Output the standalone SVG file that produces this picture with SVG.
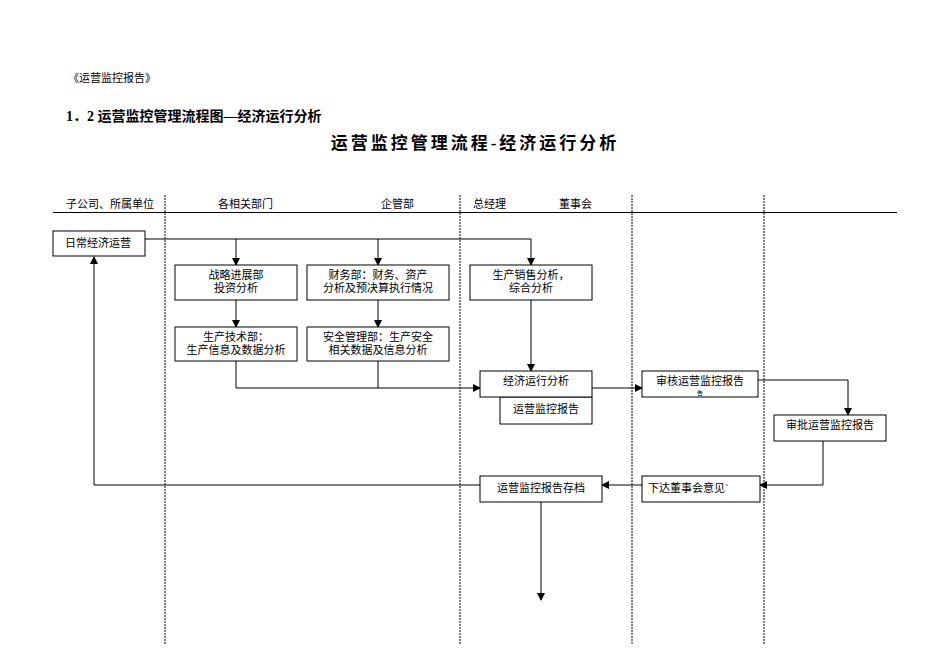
<svg xmlns="http://www.w3.org/2000/svg" width="950" height="672" viewBox="0 0 950 672">
<defs>
<marker id="a" markerWidth="8" markerHeight="8" refX="7" refY="4" orient="auto" markerUnits="userSpaceOnUse"><path d="M0,0 L8,4 L0,8 Z" fill="#000"/></marker>
<style>
text{font-family:"Liberation Serif","Noto Sans CJK SC",serif;font-size:11px;fill:#000}
.t{text-anchor:middle}
rect{fill:#fff;stroke:#000;stroke-width:1}
.c path{fill:none;stroke:#000;stroke-width:1}
.d{stroke:#000;stroke-dasharray:2,1;stroke-width:1}
</style>
</defs>
<rect x="0" y="0" width="950" height="672" style="stroke:none"/>
<text x="68" y="82" font-size="10">《运营监控报告》</text>
<text x="66" y="121" style="font-size:14px;font-weight:bold">1．2 运营监控管理流程图—经济运行分析</text>
<text x="475" y="149" class="t" style="font-size:17px;font-weight:bold;letter-spacing:3px">运营监控管理流程-经济运行分析</text>
<line x1="53" y1="212.5" x2="897" y2="212.5" stroke="#000"/>
<line class="d" x1="165" y1="195" x2="165" y2="645"/>
<line class="d" x1="460" y1="195" x2="460" y2="645"/>
<line class="d" x1="632" y1="195" x2="632" y2="645"/>
<line class="d" x1="764" y1="195" x2="764" y2="645"/>
<text x="66" y="208">子公司、所属单位</text>
<text x="218" y="208">各相关部门</text>
<text x="381" y="208">企管部</text>
<text x="473" y="208">总经理</text>
<text x="559" y="208">董事会</text>
<g class="c">
<path d="M145,239 H531 V265" marker-end="url(#a)"/>
<path d="M236,239 V265" marker-end="url(#a)"/>
<path d="M378,239 V265" marker-end="url(#a)"/>
<path d="M236,300 V327" marker-end="url(#a)"/>
<path d="M378,300 V327" marker-end="url(#a)"/>
<path d="M236,361 V388 H480" marker-end="url(#a)"/>
<path d="M378,361 V388"/>
<path d="M531,300 V371" marker-end="url(#a)"/>
<path d="M592,388 H642" marker-end="url(#a)"/>
<path d="M758,380 H848 V415" marker-end="url(#a)"/>
<path d="M823,441 V485 H760" marker-end="url(#a)"/>
<path d="M642,485 H602" marker-end="url(#a)"/>
<path d="M480,485 H94 V257" marker-end="url(#a)"/>
<path d="M541,502 V600" marker-end="url(#a)"/>
</g>
<g id="n1"><rect x="53" y="231" width="92" height="25"/><text x="98" y="247" class="t">日常经济运营</text></g>
<g id="n2"><rect x="175" y="265" width="122" height="35"/><text x="236" y="279" class="t">战略进展部</text><text x="236" y="292" class="t">投资分析</text></g>
<g id="n3"><rect x="307" y="265" width="142" height="35"/><text x="378" y="279" class="t">财务部：财务、资产</text><text x="378" y="292" class="t">分析及预决算执行情况</text></g>
<g id="n4"><rect x="470" y="265" width="122" height="35"/><text x="531" y="279" class="t">生产销售分析，</text><text x="531" y="292" class="t">综合分析</text></g>
<g id="n5"><rect x="175" y="327" width="122" height="34"/><text x="236" y="341" class="t">生产技术部：</text><text x="236" y="354" class="t">生产信息及数据分析</text></g>
<g id="n6"><rect x="307" y="327" width="142" height="34"/><text x="378" y="341" class="t">安全管理部：生产安全</text><text x="378" y="354" class="t">相关数据及信息分析</text></g>
<g id="n7"><rect x="500" y="397" width="92" height="27"/><text x="546" y="413" class="t">运营监控报告</text><rect x="480" y="371" width="112" height="26"/><text x="536" y="385" class="t">经济运行分析</text></g>
<g id="n8"><rect x="642" y="371" width="116" height="26"/><text x="700" y="385" class="t">审核运营监控报告</text><text x="700" y="395" class="t" style="font-size:6px">告</text></g>
<g id="n9"><rect x="774" y="415" width="112" height="26"/><text x="830" y="429" class="t">审批运营监控报告</text></g>
<g id="n10"><rect x="642" y="476" width="118" height="26"/><text x="648" y="492">下达董事会意见`</text></g>
<g id="n11"><rect x="480" y="476" width="122" height="26"/><text x="541" y="492" class="t">运营监控报告存档</text></g>
</svg>
